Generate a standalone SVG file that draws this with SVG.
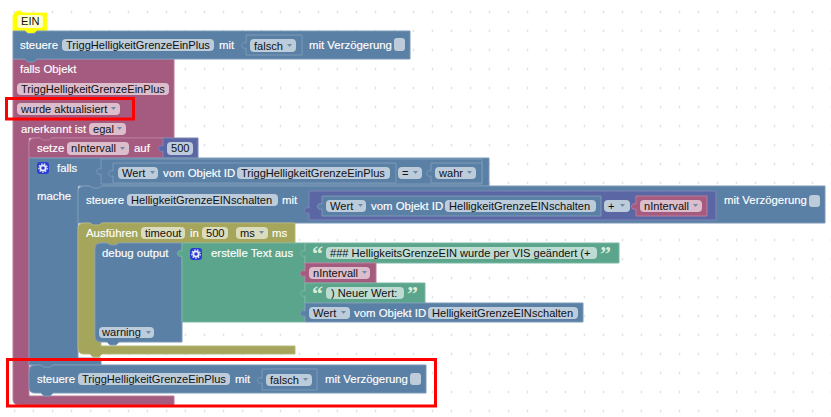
<svg xmlns="http://www.w3.org/2000/svg" width="831" height="417" viewBox="0 0 831 417">
<style>
text{font-family:"Liberation Sans",Arial,sans-serif;font-size:11.100px;white-space:pre}
.l{fill:#fff;font-size:11.400px;stroke:#fff;stroke-width:.15}
.t{fill:#111}
.blue{fill:#5b80a5;stroke:#7c99b7;stroke-width:1}
.pink{fill:#a55b80;stroke:#b87c9a;stroke-width:1}
.olive{fill:#a5a55b;stroke:#b7b77c;stroke-width:1}
.green{fill:#5ba58c;stroke:#7cb7a3;stroke-width:1}
.violet{fill:#5b67a5;stroke:#7c85b7;stroke-width:1}
.yellow{fill:#ffff00;stroke:#ffff33;stroke-width:1}
.fb{fill:#bdccdb;stroke:none}
.fp{fill:#dbbdcc;stroke:none}
.fo{fill:#dbdbbd;stroke:none}
.fg{fill:#bddbd1;stroke:none}
.fy{fill:#ffffcc;stroke:none}
.q{fill:#d9ecd9;font-family:"Liberation Serif",serif;font-size:22px;font-weight:700}
.red{fill:none;stroke:#ff0000;stroke-width:3}
.dd{fill:#6f8cab}
</style>
<defs>
<pattern id="grid" x="13" y="10.500" width="19" height="19" patternUnits="userSpaceOnUse">
<circle cx="1.500" cy="1.500" r="0.900" fill="#d6d6d6"/>
</pattern>
<path id="dd" class="dd" d="M0 0h5l-2.500 3z"/>
<g id="gear">
<rect x="0" y="0" width="12" height="12" rx="3" fill="#2b3ed1"/>
<circle cx="6" cy="6" r="2.700" fill="none" stroke="#e8ecff" stroke-width="1.800"/>
<circle cx="6" cy="6" r="4.200" fill="none" stroke="#e8ecff" stroke-width="1.200" stroke-dasharray="1.500 1.400"/>
</g>
</defs>
<rect width="831" height="417" fill="#fff"/>
<rect width="831" height="417" fill="url(#grid)"/>

<g id="ein-comment">
<path class="yellow" d="M17 11h4l2 2h24v18H37l-3 2.500h-6l-3-2.500H13V15z"/>
<rect class="fy" x="17" y="15" width="26" height="13" rx="3"/>
<text class="t" x="21" y="25">EIN</text>
</g>

<g id="falls-objekt">
<path class="pink" d="M13 59H174V138H52l-3 3h-6l-3-3H29V396H174V405H19q-6 0-6-6z"/>
<text class="l" x="20" y="73">falls Objekt</text>
<rect class="fp" x="17" y="83" width="152" height="12" rx="4"/>
<text class="t" x="21" y="93">TriggHelligkeitGrenzeEinPlus</text>
<rect class="fp" x="17" y="103" width="103" height="12" rx="4"/>
<text class="t" x="21" y="113">wurde aktualisiert</text>
<use href="#dd" x="111" y="107"/>
<text class="l" x="21" y="133">anerkannt ist</text>
<rect class="fp" x="89" y="123" width="37" height="12" rx="4"/>
<text class="t" x="93" y="133">egal</text>
<use href="#dd" x="117" y="127"/>
</g>

<g id="steuere-1">
<path class="blue" d="M13 31H25l3 2.500h6l3-2.500H410V59H37l-3 3h-6l-3-3H13z"/>
<text class="l" x="20" y="49">steuere</text>
<rect class="fb" x="62" y="39" width="152" height="12" rx="4"/>
<text class="t" x="66" y="49">TriggHelligkeitGrenzeEinPlus</text>
<text class="l" x="219" y="49">mit</text>
<path class="blue" d="M246 35H302V55H246V48c-6 2-6-7 0-5z"/>
<rect class="fb" x="250" y="39" width="46" height="13" rx="4"/>
<text class="t" x="254" y="50">falsch</text>
<use href="#dd" x="287" y="44"/>
<text class="l" x="309" y="49">mit Verzögerung</text>
<rect class="fb" x="394" y="38" width="11" height="13" rx="3"/>
</g>

<g id="setze">
<path class="pink" d="M35 138H40l3 2h6l3-2H165V158H29V144q0-6 6-6z"/>
<text class="l" x="37" y="152">setze</text>
<rect class="fp" x="67" y="142" width="62" height="13" rx="4"/>
<text class="t" x="71" y="152">nIntervall</text>
<use href="#dd" x="120" y="147"/>
<text class="l" x="134" y="152">auf</text>
<path class="violet" d="M163 138H198V158H163V151c-6 2-6-7 0-5z"/>
<rect class="fb" x="167" y="142" width="26" height="13" rx="4"/>
<text class="t" x="171" y="152">500</text>
</g>

<g id="falls">
<path class="blue" d="M29 158H489V186H102l-3 3h-6l-3-3H78V358H101V365H53l-3 3h-6l-3-3H29z"/>
<use href="#gear" x="37" y="162"/>
<text class="l" x="57" y="172">falls</text>
<text class="l" x="37" y="200">mache</text>
<path class="blue" d="M101 159H482V184H101V174c-6 2-6-7 0-5z"/>
<path class="blue" d="M113 163H396V183H113V176c-6 2-6-7 0-5z"/>
<rect class="fb" x="118" y="167" width="40" height="12" rx="4"/>
<text class="t" x="122" y="177">Wert</text>
<use href="#dd" x="150" y="171"/>
<text class="l" x="163" y="177">vom Objekt ID</text>
<rect class="fb" x="237" y="167" width="153" height="12" rx="4"/>
<text class="t" x="241" y="177">TriggHelligkeitGrenzeEinPlus</text>
<rect class="fb" x="398" y="167" width="24" height="12" rx="4"/>
<text class="t" x="402" y="177">=</text>
<use href="#dd" x="413" y="171"/>
<path class="blue" d="M431 163H482V183H431V176c-6 2-6-7 0-5z"/>
<rect class="fb" x="435" y="167" width="41" height="12" rx="4"/>
<text class="t" x="439" y="177">wahr</text>
<use href="#dd" x="467" y="171"/>
</g>

<g id="steuere-2">
<path class="blue" d="M84 186H90l3 2h6l3-2H825V223H102l-3 3h-6l-3-3H78V192q0-6 6-6z"/>
<text class="l" x="86" y="204">steuere</text>
<rect class="fb" x="127" y="194" width="151" height="12" rx="4"/>
<text class="t" x="131" y="204">HelligkeitGrenzeEINschalten</text>
<text class="l" x="282" y="204">mit</text>
<path class="violet" d="M309 191H716V220H309V213c-6 2-6-7 0-5z"/>
<path class="blue" d="M322 196H601V216H322V209c-6 2-6-7 0-5z"/>
<rect class="fb" x="326" y="200" width="40" height="12" rx="4"/>
<text class="t" x="330" y="210">Wert</text>
<use href="#dd" x="358" y="204"/>
<text class="l" x="371" y="210">vom Objekt ID</text>
<rect class="fb" x="445" y="200" width="151" height="12" rx="4"/>
<text class="t" x="449" y="210">HelligkeitGrenzeEINschalten</text>
<rect class="fb" x="604" y="200" width="26" height="12" rx="4"/>
<text class="t" x="608" y="210">+</text>
<use href="#dd" x="620" y="204"/>
<path class="pink" d="M636 196H707V216H636V209c-6 2-6-7 0-5z"/>
<rect class="fp" x="640" y="200" width="62" height="12" rx="4"/>
<text class="t" x="644" y="210">nIntervall</text>
<use href="#dd" x="693" y="204"/>
<text class="l" x="724" y="204">mit Verzögerung</text>
<rect class="fb" x="809" y="195" width="11" height="12" rx="3"/>
</g>

<g id="ausfuehren">
<path class="olive" d="M84 223H90l3 2h6l3-2H295V243H119l-3 3h-6l-3-3H101q-6 0-6 6V336q0 6 6 6V346H295V354H102l-3 3h-6l-3-3H84q-6 0-6-6V229q0-6 6-6z"/>
<text class="l" x="86" y="237">Ausführen</text>
<rect class="fo" x="141" y="227" width="44" height="12" rx="4"/>
<text class="t" x="145" y="237">timeout</text>
<text class="l" x="190" y="237">in</text>
<rect class="fo" x="202" y="227" width="26" height="12" rx="4"/>
<text class="t" x="206" y="237">500</text>
<rect class="fo" x="236" y="227" width="32" height="12" rx="4"/>
<text class="t" x="240" y="237">ms</text>
<use href="#dd" x="259" y="231"/>
<text class="l" x="272" y="237">ms</text>
</g>

<g id="debug-output">
<path class="blue" d="M101 243H107l3 2h6l3-2H182V342H119l-3 3h-6l-3-3H101q-6 0-6-6V249q0-6 6-6z"/>
<text class="l" x="102" y="257">debug output</text>
<rect class="fb" x="99" y="327" width="55" height="11" rx="4"/>
<text class="t" x="102" y="336">warning</text>
<use href="#dd" x="146" y="331"/>
</g>

<g id="erstelle-text">
<path class="green" d="M182 243H305V322H182V256c-6 2-6-7 0-5z"/>
<use href="#gear" x="190" y="248"/>
<text class="l" x="211" y="257">erstelle Text aus</text>
</g>

<g id="text-1">
<path class="green" d="M305 243H619V263H305V256c-6 2-6-7 0-5z"/>
<text class="q" x="312" y="261">“</text>
<rect class="fg" x="326" y="247" width="271" height="12" rx="4"/>
<text class="t" x="330" y="257">### HelligkeitsGrenzeEIN wurde per VIS geändert (+</text>
<text class="q" x="600" y="261">”</text>
</g>

<g id="nintervall">
<path class="pink" d="M305 263H376V283H305V276c-6 2-6-7 0-5z"/>
<rect class="fp" x="309" y="267" width="61" height="12" rx="4"/>
<text class="t" x="313" y="277">nIntervall</text>
<use href="#dd" x="362" y="271"/>
</g>

<g id="text-2">
<path class="green" d="M305 283H425V303H305V296c-6 2-6-7 0-5z"/>
<text class="q" x="312" y="301">“</text>
<rect class="fg" x="326" y="287" width="78" height="12" rx="4"/>
<text class="t" x="331" y="297">) Neuer Wert:</text>
<text class="q" x="407" y="301">”</text>
</g>

<g id="wert">
<path class="blue" d="M305 303H583V322H305V316c-6 2-6-7 0-5z"/>
<rect class="fb" x="309" y="307" width="41" height="12" rx="4"/>
<text class="t" x="313" y="317">Wert</text>
<use href="#dd" x="341" y="311"/>
<text class="l" x="354" y="317">vom Objekt ID</text>
<rect class="fb" x="428" y="307" width="150" height="12" rx="4"/>
<text class="t" x="432" y="317">HelligkeitGrenzeEINschalten</text>
</g>

<g id="steuere-3">
<path class="blue" d="M35 365H41l3 2h6l3-2H426V393H53l-3 3h-6l-3-3H35q-6 0-6-6V371q0-6 6-6z"/>
<text class="l" x="37" y="383">steuere</text>
<rect class="fb" x="78" y="373" width="152" height="12" rx="4"/>
<text class="t" x="82" y="383">TriggHelligkeitGrenzeEinPlus</text>
<text class="l" x="235" y="383">mit</text>
<path class="blue" d="M262 369H317V390H262V383c-6 2-6-7 0-5z"/>
<rect class="fb" x="266" y="374" width="46" height="12" rx="4"/>
<text class="t" x="270" y="384">falsch</text>
<use href="#dd" x="303" y="378"/>
<text class="l" x="325" y="383">mit Verzögerung</text>
<rect class="fb" x="410" y="373" width="11" height="12" rx="3"/>
</g>

<g id="highlights">
<rect class="red" x="6.500" y="98.500" width="127" height="20.500"/>
<rect class="red" x="7.500" y="359.500" width="428" height="46.500"/>
</g>
</svg>
